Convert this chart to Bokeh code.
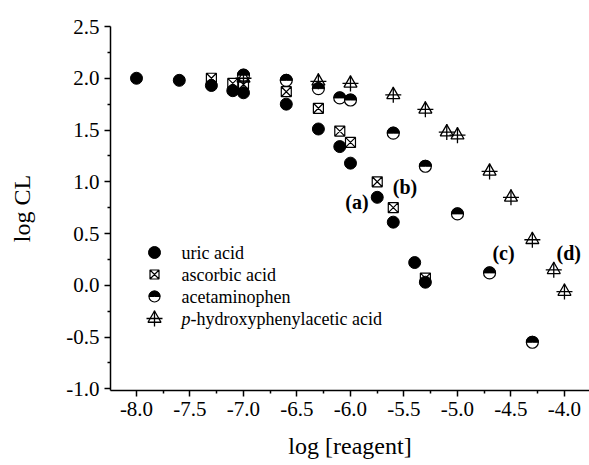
import numpy as np
from bokeh.plotting import figure
from bokeh.models import Range1d, FixedTicker, PrintfTickFormatter
from bokeh.core.properties import value
from bokeh.embed import file_html
from bokeh.resources import INLINE

# log [reagent] vs log CL for each compound
uric_x = [-8.0, -7.6, -7.3, -7.1, -7.0, -6.6, -6.3, -6.1, -6.0, -5.75, -5.6, -5.4, -5.3]
uric_y = [2.00, 1.98, 1.93, 1.88, 1.86, 1.75, 1.51, 1.34, 1.18, 0.85, 0.61, 0.22, 0.03]

ascorbic_x = [-7.3, -7.1, -7.0, -6.6, -6.3, -6.1, -6.0, -5.75, -5.6, -5.3]
ascorbic_y = [2.00, 1.95, 1.94, 1.87, 1.71, 1.49, 1.38, 1.00, 0.75, 0.07]

acet_x = [-7.0, -6.6, -6.3, -6.1, -6.0, -5.6, -5.3, -5.0, -4.7, -4.3]
acet_y = [2.03, 1.98, 1.90, 1.81, 1.79, 1.47, 1.15, 0.69, 0.12, -0.55]

phpa_x = [-7.0, -6.3, -6.0, -5.6, -5.3, -5.1, -5.0, -4.7, -4.5, -4.3, -4.1, -4.0]
phpa_y = [2.00, 1.97, 1.95, 1.84, 1.70, 1.48, 1.45, 1.10, 0.85, 0.44, 0.15, -0.06]

series_names = ["uric acid", "ascorbic acid", "acetaminophen", "-hydroxyphenylacetic acid"]

x_ticks = [-8.0, -7.5, -7.0, -6.5, -6.0, -5.5, -5.0, -4.5, -4.0]
x_minor = [-7.75, -7.25, -6.75, -6.25, -5.75, -5.25, -4.75, -4.25]
y_ticks = [-1.0, -0.5, 0.0, 0.5, 1.0, 1.5, 2.0, 2.5]
y_minor = [-0.75, -0.25, 0.25, 0.75, 1.25, 1.75, 2.25]

FONT = "Liberation Serif"

p = figure(width=589, height=465,
           x_range=Range1d(-8.243, -3.766), y_range=Range1d(-1.016, 2.5),
           output_backend="svg", toolbar_location=None,
           min_border_left=110, min_border_right=0,
           min_border_top=26, min_border_bottom=75)
p.outline_line_color = None
p.xgrid.visible = False
p.ygrid.visible = False
p.background_fill_color = "white"

for ax, ticks, minor in ((p.xaxis[0], x_ticks, x_minor), (p.yaxis[0], y_ticks, y_minor)):
    ax.ticker = FixedTicker(ticks=ticks, minor_ticks=minor)
    ax.formatter = PrintfTickFormatter(format="%.1f")
    ax.axis_line_width = 1.5
    ax.major_tick_line_width = 1.5
    ax.minor_tick_line_width = 1.5
    ax.major_tick_in = 0
    ax.minor_tick_in = 0
    ax.major_tick_out = 6
    ax.minor_tick_out = 3
    ax.major_label_text_font = FONT
    ax.major_label_text_font_size = "21px"
    ax.major_label_text_color = "black"
    ax.axis_label_text_font = FONT
    ax.axis_label_text_font_style = "normal"
    ax.axis_label_text_font_size = "24px"
    ax.axis_label_text_color = "black"

p.xaxis.axis_label = "log [reagent]"
p.yaxis.axis_label = "log CL"
p.xaxis.major_label_standoff = 5
p.yaxis.major_label_standoff = 5
p.xaxis.axis_label_standoff = 14
p.yaxis.axis_label_standoff = 28

# uric acid: filled circles
p.scatter(uric_x, uric_y, marker="circle", size=12, fill_color="black", line_color="black")
# ascorbic acid: boxed cross
p.scatter(ascorbic_x, ascorbic_y, marker="square_x", size=10, fill_color=None,
          line_color="black", line_width=1.2)
# acetaminophen: circle with filled upper half
p.scatter(acet_x, acet_y, marker="circle", size=12, fill_color="white",
          line_color="black", line_width=1.2)
p.wedge(acet_x, acet_y, radius=6, radius_units="screen", start_angle=0, end_angle=np.pi,
        fill_color="black", line_color="black")
# p-hydroxyphenylacetic acid: open triangle with a cross
p.scatter(phpa_x, phpa_y, marker="triangle", size=13, fill_color=None,
          line_color="black", line_width=1.3)
p.scatter(phpa_x, phpa_y, marker="cross", size=16, line_color="black", line_width=1.3)

# curve labels
p.text(x=[-5.94, -5.49, -4.57, -3.96], y=[0.80, 0.95, 0.31, 0.31],
       text=["(a)", "(b)", "(c)", "(d)"], text_font=value(FONT), text_font_style="bold",
       text_font_size="20px", text_align="center", text_baseline="middle", text_color="black")

# legend, laid out in frame pixel space
p.extra_x_ranges = {"px": Range1d(110, 589)}
p.extra_y_ranges = {"px": Range1d(390, 26)}
kw = dict(x_range_name="px", y_range_name="px")
kx, tx = 154, 181
rows = [252, 274, 296, 318]
p.scatter([kx], [rows[0]], marker="circle", size=12, fill_color="black", line_color="black", **kw)
p.scatter([kx], [rows[1]], marker="square_x", size=9, fill_color=None, line_color="black",
          line_width=1.2, **kw)
p.scatter([kx], [rows[2]], marker="circle", size=11, fill_color="white", line_color="black",
          line_width=1.2, **kw)
p.wedge([kx], [rows[2]], radius=5.5, radius_units="screen", start_angle=0, end_angle=np.pi,
        fill_color="black", line_color="black", **kw)
p.scatter([kx], [rows[3]], marker="triangle", size=13, fill_color=None, line_color="black",
          line_width=1.3, **kw)
p.scatter([kx], [rows[3]], marker="cross", size=16, line_color="black", line_width=1.3, **kw)

LEG = "18px"
p.text(x=[tx] * 3, y=rows[:3], text=series_names[:3], text_font=value(FONT),
       text_font_size=LEG, text_baseline="middle", text_color="black", **kw)
p.text(x=[tx], y=[rows[3]], text=["p"], text_font=value(FONT), text_font_style="italic",
       text_font_size=LEG, text_baseline="middle", text_color="black", **kw)
p.text(x=[tx + 9], y=[rows[3]], text=[series_names[3]], text_font=value(FONT),
       text_font_size=LEG, text_baseline="middle", text_color="black", **kw)

open("out.html", "w").write(file_html(p, INLINE))
